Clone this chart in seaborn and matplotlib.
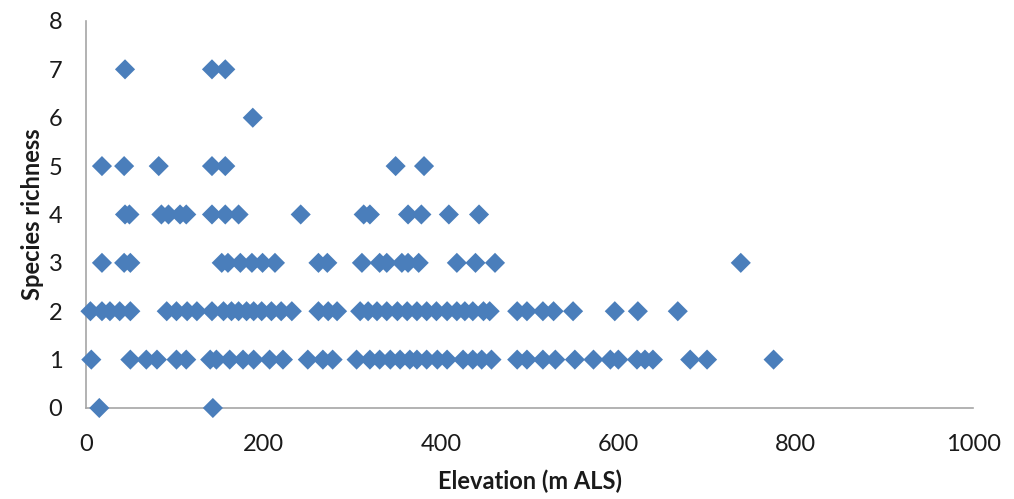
import numpy as np
import pandas as pd
import matplotlib
matplotlib.use("Agg")
import matplotlib.pyplot as plt
import seaborn as sns

# Elevation values (m ALS), grouped by species richness
elev_r0 = [15, 143]
elev_r1 = [6, 50, 68, 80, 102, 113, 140, 147, 162, 177, 189, 207, 222, 250, 267,
           278, 305, 320, 331, 343, 354, 365, 373, 384, 396, 407, 425, 436, 446,
           457, 486, 497, 515, 529, 551, 572, 591, 600, 621, 630, 639, 681, 700, 775]
elev_r2 = [5, 18, 27, 38, 50, 91, 102, 114, 125, 142, 155, 164, 172, 181, 189, 198,
           209, 220, 232, 262, 273, 283, 309, 318, 328, 339, 351, 362, 373, 384,
           395, 407, 418, 427, 436, 448, 455, 486, 497, 515, 527, 549, 596, 622, 667]
elev_r3 = [18, 43, 50, 153, 160, 174, 187, 199, 213, 262, 272, 311, 331, 339, 356,
           363, 375, 418, 439, 461, 738]
elev_r4 = [44, 49, 85, 93, 106, 113, 142, 157, 172, 242, 313, 320, 363, 378, 409, 443]
elev_r5 = [18, 43, 82, 142, 157, 349, 381]
elev_r6 = [188]
elev_r7 = [44, 142, 157]

groups = [elev_r0, elev_r1, elev_r2, elev_r3, elev_r4, elev_r5, elev_r6, elev_r7]
rows = []
for richness, elevs in enumerate(groups):
    for e in elevs:
        rows.append({"Elevation": e, "Richness": richness})
df = pd.DataFrame(rows)

sns.set_style("white")
plt.rcParams["font.family"] = ["Lato", "DejaVu Sans"]

fig = plt.figure(figsize=(10.14, 4.99), dpi=100)
ax = fig.add_axes([0.0848, 0.1824, 0.875, 0.7756])

sns.scatterplot(data=df, x="Elevation", y="Richness", marker="D", s=105,
                color="#4a7ebb", edgecolor="none", ax=ax, clip_on=False, zorder=3)

ax.set_xlim(0, 1000)
ax.set_ylim(0, 8)
ax.set_xticks(np.arange(0, 1001, 200))
ax.set_yticks(np.arange(0, 9, 1))

for side in ["top", "right"]:
    ax.spines[side].set_visible(False)
for side in ["left", "bottom"]:
    ax.spines[side].set_color("#a6a6a6")
    ax.spines[side].set_linewidth(1.2)

ax.tick_params(axis="both", which="major", direction="out", length=7, width=1.2,
               color="#a6a6a6", labelsize=17, labelcolor="#1a1a1a")
ax.tick_params(axis="y", pad=10)
ax.tick_params(axis="x", pad=12)

ax.set_xlabel("Elevation (m ALS)", fontsize=17, fontweight="bold", color="#1a1a1a",
              labelpad=10)
ax.set_ylabel("Species richness", fontsize=17, fontweight="bold", color="#1a1a1a",
              labelpad=3)

fig.savefig("out.png", dpi=100)
